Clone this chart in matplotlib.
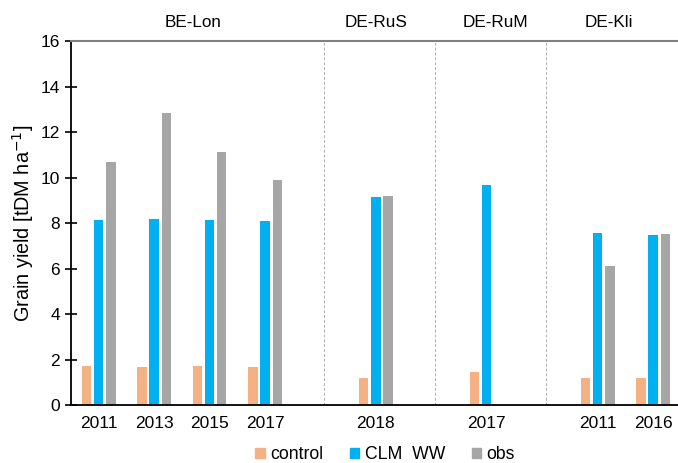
import numpy as np
import matplotlib
matplotlib.use("Agg")
import matplotlib.pyplot as plt
from matplotlib.patches import Patch

plt.rcParams["font.family"] = ["Liberation Sans", "DejaVu Sans"]

# Slots along the x axis; empty strings are spacer slots between sites
years = ["2011", "2013", "2015", "2017", "", "2018", "", "2017", "", "2011", "2016"]
sites = ["BE-Lon", "DE-RuS", "DE-RuM", "DE-Kli"]
site_centers = [1.7, 5.0, 7.15, 9.2]
dividers = [4.07, 6.07, 8.07]

control = [1.73, 1.68, 1.73, 1.68, np.nan, 1.20, np.nan, 1.46, np.nan, 1.20, 1.20]
clm_ww = [8.13, 8.18, 8.13, 8.10, np.nan, 9.16, np.nan, 9.67, np.nan, 7.55, 7.47]
obs = [10.67, 12.85, 11.13, 9.89, np.nan, 9.20, np.nan, np.nan, np.nan, 6.12, 7.52]

c_control = "#F4B183"
c_clm = "#00B0F0"
c_obs = "#A6A6A6"

fig = plt.figure(figsize=(6.78, 4.63), dpi=100)
ax = fig.add_axes([71 / 678, 1 - 405 / 463, 607 / 678, (405 - 41) / 463])

x = np.arange(len(years))
step = 0.22
width = 0.17
ax.bar(x - step, control, width, color=c_control)
ax.bar(x, clm_ww, width, color=c_clm)
ax.bar(x + step, obs, width, color=c_obs)

for d in dividers:
    ax.plot([d, d], [0, 16], color="#B0B0B0", lw=0.7, ls=(0, (3, 2)))

ax.set_xlim(-0.5, 10.45)
ax.set_ylim(0, 16)
ax.set_yticks(np.arange(0, 17, 2))
ax.set_xticks([i for i, y in enumerate(years) if y])
ax.set_xticklabels([y for y in years if y])
ax.tick_params(axis="x", length=0, labelsize=12.5, pad=8)
ax.tick_params(axis="y", direction="inout", length=8, width=1.2, labelsize=12.5, pad=4)

ax.spines["right"].set_visible(False)
ax.spines["top"].set_color("#808080")
ax.spines["top"].set_linewidth(1.5)
ax.spines["left"].set_linewidth(1.3)
ax.spines["bottom"].set_linewidth(1.3)

ax.set_ylabel("Grain yield [tDM ha$^{-1}$]", fontsize=14.3, labelpad=3)

for s, cx in zip(sites, site_centers):
    ax.text(cx, 16.8, s, ha="center", va="center", fontsize=12.3)

handles = [Patch(color=c_control, label="control"),
           Patch(color=c_clm, label="CLM  WW"),
           Patch(color=c_obs, label="obs")]
fig.legend(handles=handles, loc="center", bbox_to_anchor=(0.568, 0.018), ncol=3,
           frameon=False, fontsize=12.7, handlelength=0.55, handleheight=0.55,
           handletextpad=0.3, columnspacing=1.5)

fig.savefig("out.png", dpi=100)
